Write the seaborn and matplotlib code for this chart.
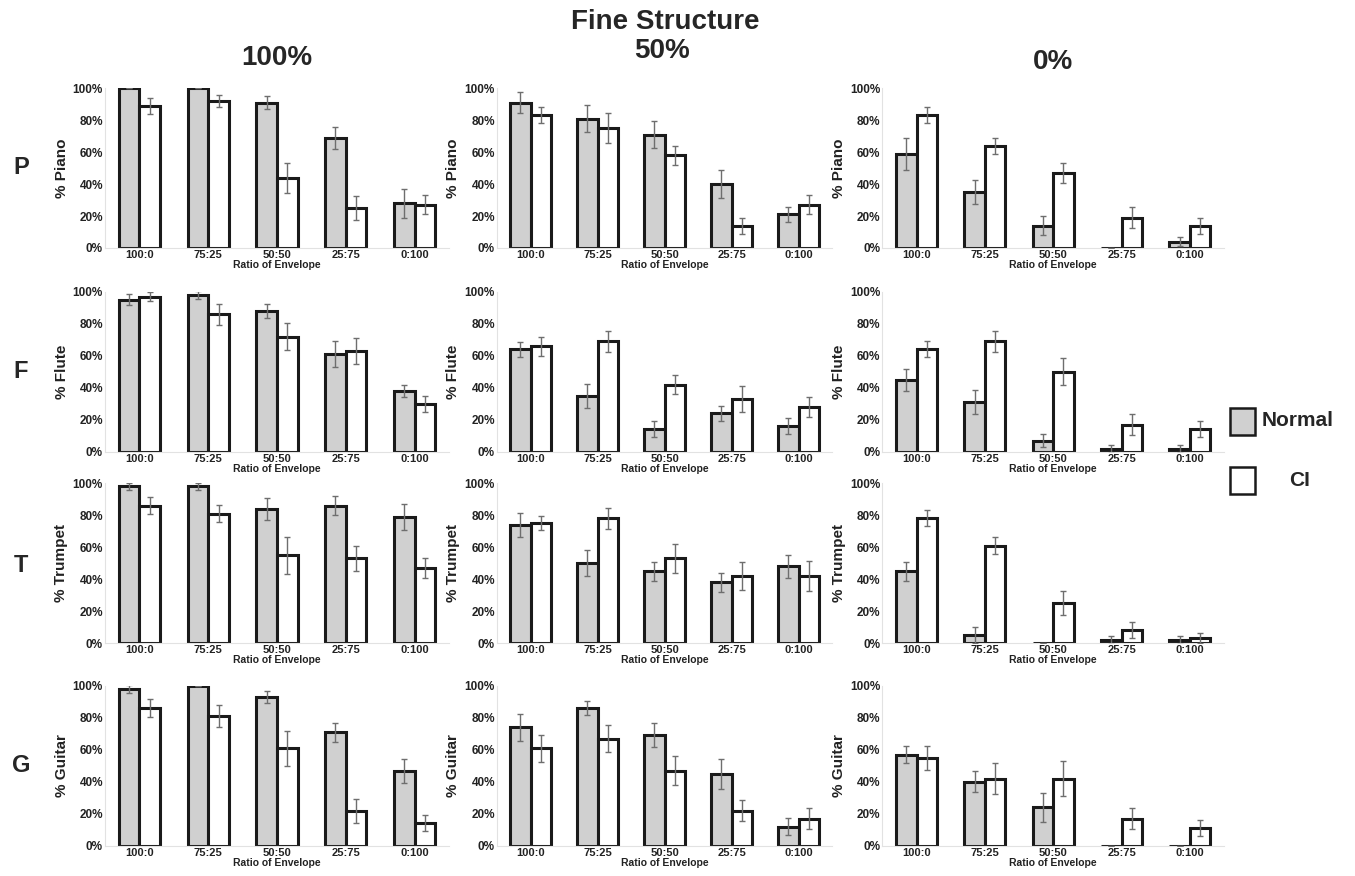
import numpy as np
import pandas as pd
import matplotlib
matplotlib.use("Agg")
import matplotlib.pyplot as plt
from matplotlib.patches import Rectangle
import seaborn as sns

ratios = ["100:0", "75:25", "50:50", "25:75", "0:100"]
instruments = ["Piano", "Flute", "Trumpet", "Guitar"]
row_letters = ["P", "F", "T", "G"]
fine_structure = ["100%", "50%", "0%"]
groups = ["Normal", "CI"]

# values in % : [instrument][fine structure] -> list over ratios
normal_vals = {
    "Piano":   [[100, 100, 91, 69, 28], [91, 81, 71, 40, 21], [59, 35, 14, 0, 4]],
    "Flute":   [[95, 98, 88, 61, 38], [64, 35, 14, 24, 16], [45, 31, 7, 2, 2]],
    "Trumpet": [[98, 98, 84, 86, 79], [74, 50, 45, 38, 48], [45, 5, 0, 2, 2]],
    "Guitar":  [[98, 100, 93, 71, 47], [74, 86, 69, 45, 12], [57, 40, 24, 0, 0]],
}
normal_err = {
    "Piano":   [[0, 0, 4, 7, 9], [6.5, 8.5, 8.5, 9, 4.5], [10, 7.5, 6, 0, 3]],
    "Flute":   [[3.5, 2.5, 4.5, 8, 3.5], [4.5, 7.5, 5, 4.5, 5], [7, 7.5, 4, 2.5, 2.5]],
    "Trumpet": [[2.5, 2.5, 7, 6, 8], [7.5, 8, 6, 6, 7], [6, 5, 0, 2.5, 2.5]],
    "Guitar":  [[2.5, 0, 4, 6, 7.5], [8.5, 4.5, 7.5, 9.5, 5.5], [5.5, 6.5, 9, 0, 0]],
}
ci_vals = {
    "Piano":   [[89, 92, 44, 25, 27], [83, 75, 58, 14, 27], [83, 64, 47, 19, 14]],
    "Flute":   [[97, 86, 72, 63, 30], [66, 69, 42, 33, 28], [64, 69, 50, 17, 14]],
    "Trumpet": [[86, 81, 55, 53, 47], [75, 78, 53, 42, 42], [78, 61, 25, 8, 3]],
    "Guitar":  [[86, 81, 61, 22, 14], [61, 67, 47, 22, 17], [55, 42, 42, 17, 11]],
}
ci_err = {
    "Piano":   [[5, 4, 9.5, 7.5, 6], [5, 9.5, 6, 5, 6], [5, 5, 6.5, 6.5, 5]],
    "Flute":   [[3, 6.5, 8.5, 8, 5], [6, 6.5, 6, 8, 6], [5, 6.5, 8.5, 6.5, 5]],
    "Trumpet": [[5.5, 5.5, 11.5, 8, 6.5], [4.5, 6.5, 9, 8.5, 9.5], [5, 5.5, 7.5, 5, 3]],
    "Guitar":  [[5.5, 7, 11, 7.5, 5], [8.5, 8.5, 9, 6.5, 6.5], [7.5, 9.5, 11, 6.5, 5]],
}

sns.set_style("white")
plt.rcParams["font.family"] = ["Liberation Sans", "DejaVu Sans"]
plt.rcParams["font.weight"] = "bold"

fig = plt.figure(figsize=(13.55, 8.76), dpi=100)
W, H = 1355.0, 876.0

col_px = [(105, 449), (497, 832), (882.5, 1224)]
row_px = [(88.3, 248), (291.7, 451.7), (483.3, 643), (685.7, 845.7)]

grey = "#d0d0d0"
palette = {"Normal": grey, "CI": "white"}

for r, inst in enumerate(instruments):
    for c, fs in enumerate(fine_structure):
        x0, x1 = col_px[c]
        y0, y1 = row_px[r]
        ax = fig.add_axes([x0 / W, 1 - y1 / H, (x1 - x0) / W, (y1 - y0) / H])
        df = pd.DataFrame({
            "ratio": ratios * 2,
            "group": ["Normal"] * 5 + ["CI"] * 5,
            "value": list(np.array(normal_vals[inst][c]) / 100.0) + list(np.array(ci_vals[inst][c]) / 100.0),
        })
        sns.barplot(data=df, x="ratio", y="value", hue="group", order=ratios,
                    hue_order=groups, palette=palette, width=0.6,
                    edgecolor="#1a1a1a", linewidth=2.2, legend=False, ax=ax,
                    errorbar=None)
        errs = [normal_err[inst][c], ci_err[inst][c]]
        for gi, cont in enumerate(ax.containers[:2]):
            xs = [p.get_x() + p.get_width() / 2 for p in cont.patches]
            ys = [p.get_height() for p in cont.patches]
            e = np.array(errs[gi]) / 100.0
            ax.errorbar(xs, ys, yerr=e, fmt="none", ecolor="#6e6e6e",
                        elinewidth=1, capsize=2.5, capthick=1, zorder=5)
        ax.set_xlim(-0.5, 4.5)
        ax.set_ylim(0, 1.0)
        ax.set_yticks(np.arange(0, 1.01, 0.2))
        ax.set_yticklabels([f"{int(round(v * 100))}%" for v in np.arange(0, 1.01, 0.2)],
                           fontsize=8.5, fontweight="bold", color="#222222")
        ax.set_xticks(range(5))
        ax.set_xticklabels(ratios, fontsize=8, fontweight="bold", color="#222222")
        ax.tick_params(axis="both", length=0, pad=1.5)
        ax.set_xlabel("Ratio of Envelope", fontsize=7.5, fontweight="bold", labelpad=0,
                      color="#222222")
        ax.set_ylabel(f"% {inst}", fontsize=11, fontweight="bold", labelpad=3, color="#222222")
        for s in ["top", "right"]:
            ax.spines[s].set_visible(False)
        for s in ["left", "bottom"]:
            ax.spines[s].set_color("#e2e2e2")
            ax.spines[s].set_linewidth(0.8)
        ax.set_facecolor("none")

fig.text(665 / W, 1 - 22 / H, "Fine Structure", ha="center", va="center",
         fontsize=20, fontweight="bold")
fig.text(277 / W, 1 - 58 / H, fine_structure[0], ha="center", va="center", fontsize=20, fontweight="bold")
fig.text(662 / W, 1 - 51 / H, fine_structure[1], ha="center", va="center", fontsize=20, fontweight="bold")
fig.text(1053 / W, 1 - 62 / H, fine_structure[2], ha="center", va="center", fontsize=20, fontweight="bold")

for r, (letter, ypx) in enumerate(zip(row_letters, [168, 372, 565, 765])):
    fig.text(21 / W, 1 - ypx / H, letter, ha="center", va="center", fontsize=17, fontweight="bold")

# legend
fig.patches.append(Rectangle((1230 / W, 1 - 435 / H), 25 / W, 27 / H, transform=fig.transFigure,
                             facecolor=grey, edgecolor="#1a1a1a", linewidth=1.8))
fig.text(1262 / W, 1 - 421 / H, groups[0], ha="left", va="center", fontsize=15, fontweight="bold")
fig.patches.append(Rectangle((1230 / W, 1 - 494 / H), 25 / W, 27 / H, transform=fig.transFigure,
                             facecolor="white", edgecolor="#1a1a1a", linewidth=1.8))
fig.text(1300 / W, 1 - 481 / H, groups[1], ha="center", va="center", fontsize=15, fontweight="bold")

fig.savefig("out.png", dpi=100, facecolor="white")
